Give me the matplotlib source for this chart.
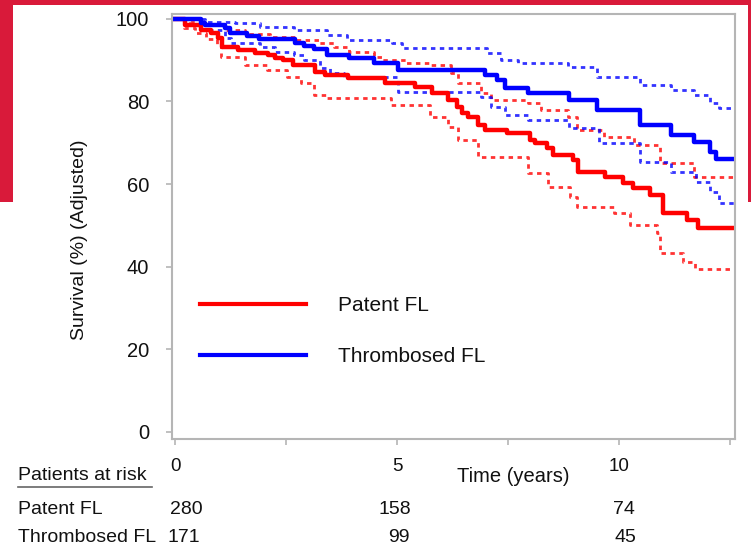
import matplotlib
matplotlib.use("Agg")
import matplotlib.pyplot as plt
from matplotlib.patches import Rectangle
from matplotlib.lines import Line2D

plt.rcParams['font.family'] = ['Liberation Sans', 'DejaVu Sans']

# ---------------- data ----------------
patent_t = [0, 0.23, 0.59, 0.81, 0.97, 1.06, 1.42, 1.80, 2.09, 2.25, 2.43, 2.66, 3.15, 3.38, 3.90,
            4.73, 5.41, 5.79, 6.15, 6.35, 6.46, 6.60, 6.82, 6.98, 7.48, 8.00, 8.11, 8.38, 8.51,
            8.96, 9.08, 9.68, 10.09, 10.32, 10.70, 10.99, 11.53, 11.78, 12.6]
patent_s = [100, 98.5, 97.3, 96.6, 95.4, 93.2, 92.5, 91.8, 91.3, 90.5, 90.1, 88.8, 87.2, 86.4, 85.7,
            84.5, 83.5, 82.1, 80.4, 78.7, 77.2, 76.2, 74.3, 73.1, 72.4, 70.7, 69.9, 68.7, 67.0,
            65.8, 62.9, 61.7, 60.2, 59.0, 57.3, 53.0, 51.3, 49.3, 49.3]

patent_up_t = [0, 0.34, 0.67, 1.12, 1.57, 2.13, 2.71, 3.24, 3.58, 3.91, 4.47, 4.65, 5.19, 5.75,
               6.22, 6.38, 6.89, 7.11, 7.94, 8.23, 8.84, 9.06, 9.66, 10.33, 10.92, 11.68, 12.6]
patent_up_s = [100, 99.3, 98.5, 97.3, 96.4, 95.6, 94.9, 94.2, 93.2, 92.0, 90.8, 90.0, 89.3, 88.8,
               86.9, 84.5, 82.1, 80.4, 79.6, 78.0, 76.2, 73.1, 71.4, 69.5, 65.0, 61.7, 61.7]

patent_lo_t = [0, 0.20, 0.45, 0.70, 0.95, 1.03, 1.57, 2.08, 2.53, 2.83, 3.13, 3.42, 4.86, 5.75,
               6.15, 6.38, 6.82, 7.94, 8.39, 8.90, 9.06, 9.89, 10.25, 10.85, 10.92, 11.45, 11.70, 12.6]
patent_lo_s = [100, 97.8, 96.6, 95.2, 93.7, 90.8, 88.8, 87.6, 86.0, 84.5, 81.6, 80.8, 79.2, 76.2,
               73.8, 70.7, 66.5, 62.7, 59.3, 56.8, 54.4, 53.0, 50.0, 48.1, 43.3, 41.0, 39.4, 39.4]

thromb_t = [0, 0.58, 0.67, 1.12, 1.23, 1.63, 1.90, 2.71, 2.91, 3.13, 3.42, 3.91, 4.47, 5.01,
            6.98, 7.25, 7.43, 7.94, 8.88, 9.51, 10.47, 11.16, 11.68, 12.04, 12.19, 12.6]
thromb_s = [100, 99.0, 98.5, 97.8, 96.6, 95.9, 95.2, 94.2, 93.5, 92.7, 91.3, 90.5, 89.3, 87.6,
            86.4, 85.2, 83.3, 82.1, 80.4, 78.0, 74.3, 71.9, 70.2, 67.8, 66.1, 66.1]

thromb_up_t = [0, 0.67, 1.34, 1.92, 2.68, 3.42, 3.87, 4.88, 5.10, 7.02, 7.34, 7.72, 8.84, 9.51,
               10.47, 11.16, 11.68, 12.04, 12.26, 12.6]
thromb_up_s = [100, 99.3, 99.0, 98.0, 97.3, 96.1, 94.9, 94.2, 92.9, 91.8, 90.0, 89.3, 88.4, 86.0,
               84.0, 82.8, 81.6, 79.6, 78.4, 78.4]

thromb_lo_t = [0, 0.58, 1.12, 1.25, 1.92, 2.24, 2.68, 2.91, 3.27, 3.49, 3.80, 5.03, 6.89, 7.11,
               7.43, 7.94, 8.88, 9.55, 10.47, 11.16, 11.74, 12.04, 12.26, 12.6]
thromb_lo_s = [100, 97.3, 95.4, 94.2, 93.2, 92.0, 91.3, 90.0, 88.1, 86.9, 86.0, 82.3, 81.0, 78.7,
               76.7, 75.5, 73.6, 70.0, 65.3, 62.9, 60.5, 58.0, 55.4, 55.4]

risk_times = [0, 5, 10]
risk_patent = [280, 158, 74]
risk_thromb = [171, 99, 45]
x_ticks = [0, 2.5, 5, 7.5, 10, 12.5]
x_ticklabels = ['0', '', '5', '', '10', '']
y_ticks = [0, 20, 40, 60, 80, 100]

RED = '#ff0000'
BLUE = '#0000ff'
BG_RED = '#d91a3a'
TXT = '#111111'
GRAY = '#b5b5b5'

W, H = 751, 555
fig = plt.figure(figsize=(W / 100, H / 100), dpi=100)

def fx(px):
    return px / W

def fy(py):
    return 1 - py / H

# background decoration
fig.add_artist(Rectangle((0, fy(202)), 1, 1 - fy(202), transform=fig.transFigure,
                         facecolor=BG_RED, edgecolor='none', zorder=-20))
fig.add_artist(Rectangle((fx(13), fy(202)), fx(748) - fx(13), fy(5) - fy(202),
                         transform=fig.transFigure, facecolor='white', edgecolor='none', zorder=-19))

ax = fig.add_axes([fx(172), fy(439), fx(735) - fx(172), fy(14) - fy(439)])
ax.set_facecolor('white')

dot = (0, (1.6, 1.6))
ax.step(patent_up_t, patent_up_s, where='post', color=RED, lw=2.0, ls=dot, alpha=0.8)
ax.step(patent_lo_t, patent_lo_s, where='post', color=RED, lw=2.0, ls=dot, alpha=0.8)
ax.step(thromb_up_t, thromb_up_s, where='post', color=BLUE, lw=2.0, ls=dot, alpha=0.8)
ax.step(thromb_lo_t, thromb_lo_s, where='post', color=BLUE, lw=2.0, ls=dot, alpha=0.8)
ax.step(patent_t, patent_s, where='post', color=RED, lw=3.2)
ax.step(thromb_t, thromb_s, where='post', color=BLUE, lw=3.2)

ax.set_xlim(-0.07, 12.61)
ax.set_ylim(-1.8, 101.2)
ax.set_xticks(x_ticks)
ax.set_xticklabels(x_ticklabels)
ax.set_yticks(y_ticks)
ax.tick_params(axis='both', colors=GRAY, labelcolor=TXT, length=4.5, width=1.2)
ax.tick_params(axis='y', labelsize=14.5, pad=12)
ax.tick_params(axis='x', labelsize=13.5, pad=9)
for s in ax.spines.values():
    s.set_color(GRAY)
    s.set_linewidth(1.5)

fig.text(fx(79), fy(240), 'Survival (%) (Adjusted)', fontsize=14, color=TXT,
         rotation=90, ha='center', va='center')

# legend
handles = [Line2D([], [], color=RED, lw=3), Line2D([], [], color=BLUE, lw=3)]
fig.legend(handles, ['Patent FL', 'Thrombosed FL'], loc='center left',
           bbox_to_anchor=(fx(200), fy(331)), frameon=False, fontsize=15,
           handlelength=5.1, handletextpad=1.5, labelspacing=1.55,
           borderpad=0, borderaxespad=0, labelcolor=TXT)

# axis title and risk table
fig.text(fx(513), fy(477), 'Time (years)', fontsize=14.5, color=TXT, ha='center', va='center')
fig.text(fx(18), fy(476), 'Patients at risk', fontsize=14, color=TXT, ha='left', va='center')
fig.add_artist(Line2D([fx(18), fx(152)], [fy(487), fy(487)], transform=fig.transFigure,
                      color='#666666', lw=1.2))
fig.text(fx(18), fy(509), 'Patent FL', fontsize=14, color=TXT, ha='left', va='center')
fig.text(fx(18), fy(537), 'Thrombosed FL', fontsize=14, color=TXT, ha='left', va='center')
row1_x = [186, 395, 624]
row2_x = [184, 399, 625]
for xp, v in zip(row1_x, risk_patent):
    fig.text(fx(xp), fy(509), str(v), fontsize=14, color=TXT, ha='center', va='center')
for xp, v in zip(row2_x, risk_thromb):
    fig.text(fx(xp), fy(537), str(v), fontsize=14, color=TXT, ha='center', va='center')

fig.savefig('out.png', dpi=100)
